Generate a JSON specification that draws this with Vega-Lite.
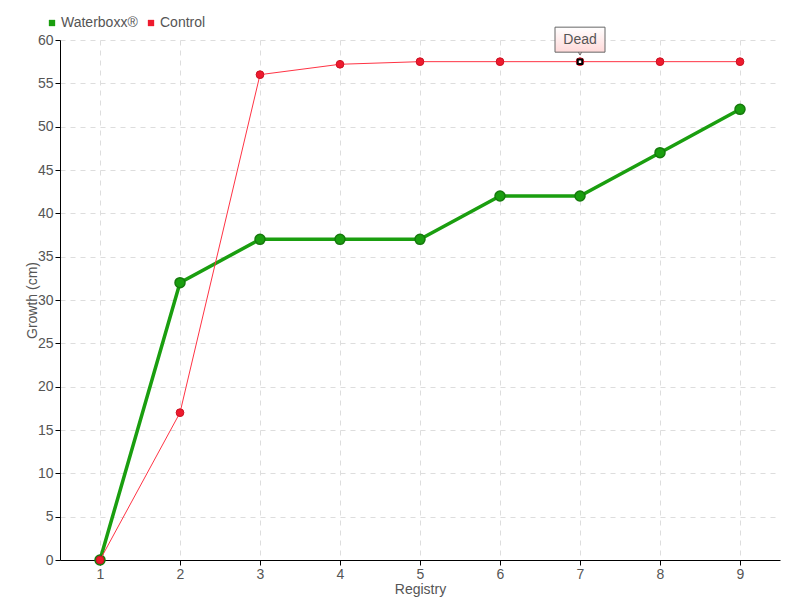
{
  "$schema": "https://vega.github.io/schema/vega-lite/v6.json",
  "width": 720,
  "height": 520,
  "autosize": {"type": "none"},
  "padding": {"left": 60, "top": 40, "right": 20, "bottom": 40},
  "background": "white",
  "config": {
    "view": {"stroke": null},
    "font": "Liberation Sans",
    "axis": {
      "domainColor": "#000",
      "tickColor": "#000",
      "tickSize": 5,
      "labelColor": "#555",
      "labelFontSize": 14,
      "titleColor": "#555",
      "titleFontSize": 14,
      "titleFontWeight": "normal",
      "gridColor": "#dddddd",
      "gridDash": [5, 5]
    }
  },
  "datasets": {
    "growth": [
      {"series": "Waterboxx®", "registry": 1, "growth": 0},
      {"series": "Waterboxx®", "registry": 2, "growth": 32},
      {"series": "Waterboxx®", "registry": 3, "growth": 37},
      {"series": "Waterboxx®", "registry": 4, "growth": 37},
      {"series": "Waterboxx®", "registry": 5, "growth": 37},
      {"series": "Waterboxx®", "registry": 6, "growth": 42},
      {"series": "Waterboxx®", "registry": 7, "growth": 42},
      {"series": "Waterboxx®", "registry": 8, "growth": 47},
      {"series": "Waterboxx®", "registry": 9, "growth": 52},
      {"series": "Control", "registry": 1, "growth": 0},
      {"series": "Control", "registry": 2, "growth": 17},
      {"series": "Control", "registry": 3, "growth": 56},
      {"series": "Control", "registry": 4, "growth": 57.2},
      {"series": "Control", "registry": 5, "growth": 57.5},
      {"series": "Control", "registry": 6, "growth": 57.5},
      {"series": "Control", "registry": 7, "growth": 57.5},
      {"series": "Control", "registry": 8, "growth": 57.5},
      {"series": "Control", "registry": 9, "growth": 57.5}
    ],
    "notes": [
      {"registry": 7, "growth": 57.5, "label": "Dead"}
    ]
  },
  "data": {"name": "growth"},
  "encoding": {
    "x": {
      "field": "registry",
      "type": "quantitative",
      "scale": {"domain": [0.5, 9.5], "nice": false, "zero": false},
      "axis": {"values": [1, 2, 3, 4, 5, 6, 7, 8, 9], "title": "Registry", "titlePadding": 1, "labelPadding": 2, "format": "d"}
    },
    "y": {
      "field": "growth",
      "type": "quantitative",
      "scale": {"domain": [0, 60], "nice": false},
      "axis": {"values": [0, 5, 10, 15, 20, 25, 30, 35, 40, 45, 50, 55, 60], "title": "Growth (cm)", "titlePadding": -2, "labelPadding": 2}
    }
  },
  "layer": [
    {
      "transform": [{"filter": "datum.series === 'Waterboxx®'"}],
      "mark": {"type": "line", "strokeWidth": 3.5, "color": "#1a9e0f"},
      "encoding": {}
    },
    {
      "transform": [{"filter": "datum.series === 'Waterboxx®'"}],
      "mark": {"type": "point", "filled": true, "size": 100, "stroke": "#157a0c", "strokeWidth": 1.5, "opacity": 1},
      "encoding": {
        "color": {
          "field": "series",
          "type": "nominal",
          "scale": {"domain": ["Waterboxx®", "Control"], "range": ["#1a9e0f", "#ee1a2e"]},
          "legend": {
            "orient": "none",
            "legendX": -15,
            "legendY": -24,
            "direction": "horizontal",
            "title": null,
            "symbolType": "square",
            "symbolSize": 40,
            "symbolStrokeWidth": 0,
            "symbolOpacity": 1,
            "labelFontSize": 14,
            "labelColor": "#555",
            "columnPadding": 6,
            "labelOffset": 2
          }
        }
      }
    },
    {
      "transform": [{"filter": "datum.series === 'Control'"}],
      "mark": {"type": "line", "strokeWidth": 1, "color": "#ff3344"},
      "encoding": {}
    },
    {
      "transform": [{"filter": "datum.series === 'Control'"}],
      "mark": {"type": "point", "filled": true, "size": 60, "fill": "#ee1a2e", "stroke": "#cc1122", "strokeWidth": 1, "opacity": 1},
      "encoding": {}
    },
    {
      "data": {"name": "notes"},
      "mark": {"type": "point", "shape": "square", "size": 20, "filled": false, "stroke": "#000", "fill": "#fff", "strokeWidth": 2, "opacity": 1},
      "encoding": {}
    },
    {
      "data": {"name": "notes"},
      "mark": {"type": "point", "shape": "triangle-down", "size": 60, "filled": true, "fill": "#ffe6e6", "stroke": "#666", "strokeWidth": 1, "yOffset": -10, "opacity": 1},
      "encoding": {}
    },
    {
      "data": {"name": "notes"},
      "mark": {
        "type": "rect",
        "width": 50,
        "height": 25,
        "yOffset": -22,
        "stroke": "#666",
        "strokeWidth": 1,
        "fill": {
          "gradient": "linear",
          "x1": 0, "y1": 0, "x2": 0, "y2": 1,
          "stops": [{"offset": 0, "color": "#ffffff"}, {"offset": 1, "color": "#ffd9d9"}]
        }
      },
      "encoding": {}
    },
    {
      "data": {"name": "notes"},
      "mark": {"type": "text", "fontSize": 14, "color": "#555", "yOffset": -22},
      "encoding": {"text": {"field": "label"}}
    }
  ]
}
